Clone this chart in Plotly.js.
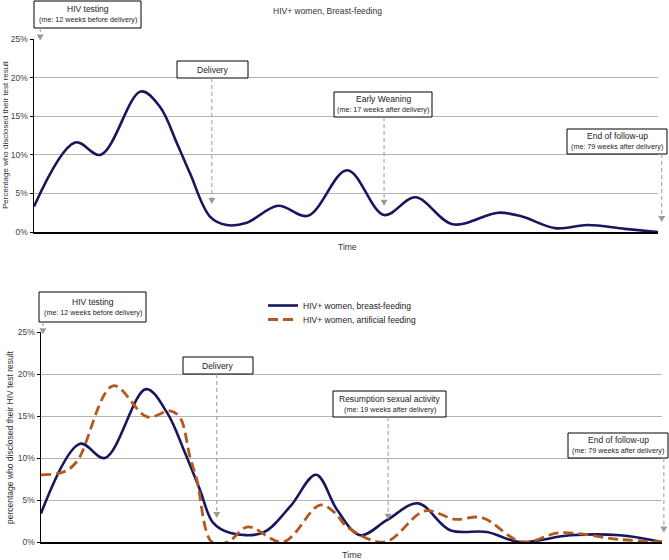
<!DOCTYPE html>
<html>
<head>
<meta charset="utf-8">
<script src="https://cdn.plot.ly/plotly-3.0.1.min.js"></script>
<style>
  html, body { margin: 0; padding: 0; background: #fff; }
  #chart { width: 669px; height: 560px; }
</style>
</head>
<body>
<div id="chart"></div>
<script>
// time is on an arbitrary 0-100 scale (axis has no ticks in the original)
var topTime   = [0, 6.6, 10.7, 17.1, 20.2, 22.9, 25.0, 28.2, 30.9, 34.1, 39.1, 43.9, 50.2, 56.1, 61.1, 67.1, 74.4, 78.2, 83.5, 88.8, 94.7, 100];
var topBreast = [3.3, 11.6, 10.0, 18.2, 16.2, 11.5, 7.6, 2.0, 0.9, 1.2, 3.4, 2.1, 8.0, 2.2, 4.5, 1.0, 2.5, 2.0, 0.5, 0.9, 0.4, 0];

var botTime   = [0, 6.3, 10.3, 16.9, 20.3, 23.2, 25.6, 27.7, 30.4, 35.7, 40.1, 44.3, 47.7, 51.4, 55.7, 60.7, 65.9, 71.8, 77.1, 85.2, 93.2, 100];
var botBreast = [3.4, 11.7, 10.0, 18.2, 15.4, 10.6, 6.2, 2.3, 1.1, 1.1, 4.2, 8.0, 3.8, 0.8, 2.6, 4.6, 1.4, 1.2, 0, 0.8, 0.8, 0];

var artTime    = [0, 3.5, 5.8, 11.6, 17.1, 20.8, 22.4, 24.0, 25.1, 27.5, 30.1, 33.3, 39.0, 44.9, 47.3, 49.3, 55.4, 61.8, 66.7, 71.0, 77.5, 83.6, 93.2, 100];
var artFeeding = [8.0, 8.3, 9.6, 18.6, 14.9, 15.6, 14.8, 10.1, 7.4, 0, 0, 1.8, 0, 4.4, 3.5, 1.8, 0, 3.7, 2.7, 2.9, 0, 1.1, 0.3, 0];

var topEventTime  = [1.0, 28.5, 56.1, 100.6];
var topEventNames = ['HIV testing', 'Delivery', 'Early Weaning', 'End of follow-up'];
var topEventNotes = ['(me: 12 weeks before delivery)', '', '(me: 17 weeks after delivery)', '(me: 79 weeks after delivery)'];

var botEventTime  = [0.3, 28.3, 55.9, 100.3];
var botEventNames = ['HIV testing', 'Delivery', 'Resumption sexual activity', 'End of follow-up'];
var botEventNotes = ['(me: 12 weeks before delivery)', '', '(me: 19 weeks after delivery)', '(me: 79 weeks after delivery)'];

var yTicks = [0, 5, 10, 15, 20, 25];
var yTickText = yTicks.map(function (v) { return v + '%'; });

// ---- layout helpers (pixels -> paper) ----
var W = 669, H = 560;
var topDomX = [34, 658], topDomY = [39, 232];
var botDomX = [41, 662], botDomY = [332, 542];
function px(x) { return x / W; }
function py(y) { return 1 - y / H; }
function xPix(u, d) { return d[0] + u / 100 * (d[1] - d[0]); }
function yPx(v, d) { return d[1] - v / 25 * (d[1] - d[0]); }

var FONT = 'Liberation Sans, Arial, sans-serif';
var navy = '#17165f';
var rust = '#b4581e';
var arrowGrey = '#9a9a9a';

// where the arrow tips sit (percent) and the label boxes (pixels)
var topTips = [25.2, 4.0, 3.8, 1.7];
var botTips = [25.1, 3.2, 3.0, 1.5];
var topBoxes = [
    {cx: 87.5, cy: 14.5, w: 107, h: 27},
    {cx: 212.5, cy: 69.5, w: 71, h: 17},
    {cx: 383, cy: 104.5, w: 98, h: 25},
    {cx: 617, cy: 141.5, w: 100, h: 25}
];
var botBoxes = [
    {cx: 92.5, cy: 307, w: 107, h: 30},
    {cx: 218, cy: 365.5, w: 70, h: 17},
    {cx: 389.5, cy: 404, w: 113, h: 26},
    {cx: 618, cy: 445.5, w: 100, h: 25}
];

var data = [
    {
        x: topTime, y: topBreast, xaxis: 'x', yaxis: 'y',
        type: 'scatter', mode: 'lines', showlegend: false,
        line: {color: navy, width: 2.6, shape: 'spline', smoothing: 1}
    },
    {
        x: botTime, y: botBreast, xaxis: 'x2', yaxis: 'y2',
        type: 'scatter', mode: 'lines', name: 'HIV+ women, breast-feeding',
        legend: 'legend',
        line: {color: navy, width: 2.6, shape: 'spline', smoothing: 1}
    },
    {
        x: artTime, y: artFeeding, xaxis: 'x2', yaxis: 'y2',
        type: 'scatter', mode: 'lines', name: 'HIV+ women, artificial feeding',
        legend: 'legend2',
        line: {color: rust, width: 2.8, dash: '10px,5px', shape: 'spline', smoothing: 1}
    }
];

function yAxis(dom, anchor) {
    return {
        domain: [py(dom[1]), py(dom[0])], anchor: anchor,
        range: [0, 25], tickvals: yTicks, ticktext: yTickText,
        ticks: 'outside', ticklen: 3, tickcolor: '#000',
        showline: true, linecolor: '#000', linewidth: 1.5,
        showgrid: true, gridcolor: '#b4b4b4', gridwidth: 1,
        zeroline: false, tickfont: {size: 8.5, color: '#444'}
    };
}
function xAxis(dom, anchor) {
    return {
        domain: [px(dom[0]), px(dom[1])], anchor: anchor,
        range: [0, 100], showticklabels: false, ticks: '',
        showline: true, linecolor: '#000', linewidth: 1.5,
        showgrid: false, zeroline: false
    };
}

var annotations = [], shapes = [];

function label(text, x, y, size, angle, color) {
    annotations.push({
        xref: 'paper', yref: 'paper', x: px(x), y: py(y),
        xanchor: 'center', yanchor: 'middle', showarrow: false,
        text: text, textangle: angle || 0,
        font: {size: size, color: color || '#333'}
    });
}

function addEvents(names, notes, times, tips, boxes, domX, domY) {
    for (var i = 0; i < names.length; i++) {
        var b = boxes[i];
        // label box
        shapes.push({
            type: 'rect', xref: 'paper', yref: 'paper',
            x0: px(b.cx - b.w / 2), x1: px(b.cx + b.w / 2),
            y0: py(b.cy + b.h / 2), y1: py(b.cy - b.h / 2),
            fillcolor: '#fff', line: {color: '#000', width: 1}
        });
        if (notes[i]) {
            label(names[i], b.cx, b.cy - 5.5, 8.5, 0, '#222');
            label(notes[i], b.cx, b.cy + 5, 7.2, 0, '#222');
        } else {
            label(names[i], b.cx, b.cy, 8.5, 0, '#222');
        }
        var xa = xPix(times[i], domX);
        var tipY = yPx(tips[i], domY);
        // dashed stem
        shapes.push({
            type: 'line', xref: 'paper', yref: 'paper',
            x0: px(xa), x1: px(xa), y0: py(b.cy + b.h / 2), y1: py(tipY - 3),
            line: {color: arrowGrey, width: 1, dash: '4px,3px'}
        });
        // arrow head
        shapes.push({
            type: 'path', xref: 'paper', yref: 'paper',
            path: 'M' + px(xa - 3.5) + ',' + py(tipY - 3) +
                  ' L' + px(xa + 3.5) + ',' + py(tipY - 3) +
                  ' L' + px(xa) + ',' + py(tipY + 3) + ' Z',
            fillcolor: arrowGrey, line: {width: 0}
        });
    }
}
addEvents(topEventNames, topEventNotes, topEventTime, topTips, topBoxes, topDomX, topDomY);
addEvents(botEventNames, botEventNotes, botEventTime, botTips, botBoxes, botDomX, botDomY);

label('HIV+ women, Breast-feeding', 327.5, 11, 8.5);
label('Time', 347, 247, 8.5);
label('Time', 352, 555, 9);
label('Percentage who disclosed their test result', 5, 135, 8, -90);
label('percentage who disclosed their HIV test result', 10, 437, 8.5, -90);

var layout = {
    width: W, height: H,
    margin: {l: 0, r: 0, t: 0, b: 0},
    paper_bgcolor: '#fff', plot_bgcolor: '#fff',
    font: {family: FONT, size: 8.5, color: '#333'},
    xaxis: xAxis(topDomX, 'y'),
    yaxis: yAxis(topDomY, 'x'),
    xaxis2: xAxis(botDomX, 'y2'),
    yaxis2: yAxis(botDomY, 'x2'),
    legend: {
        x: px(263), y: py(291), xanchor: 'left', yanchor: 'top',
        bgcolor: 'rgba(0,0,0,0)', font: {size: 8.5, color: '#222'}
    },
    legend2: {
        x: px(263), y: py(305), xanchor: 'left', yanchor: 'top',
        bgcolor: 'rgba(0,0,0,0)', font: {size: 8.5, color: '#222'}
    },
    annotations: annotations,
    shapes: shapes
};

Plotly.newPlot('chart', data, layout, {displayModeBar: false, staticPlot: true});
</script>
</body>
</html>
